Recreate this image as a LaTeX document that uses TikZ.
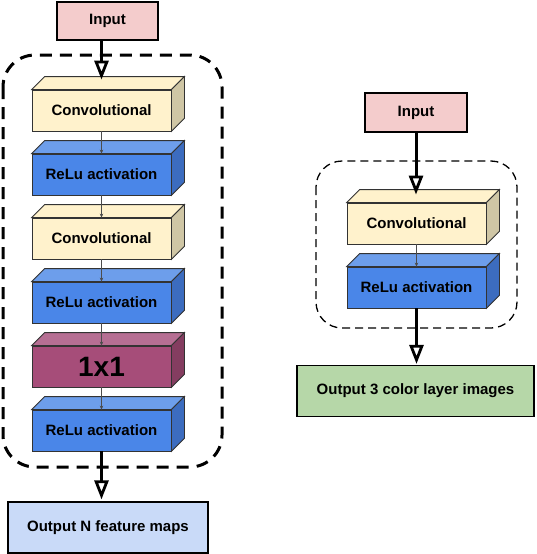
\documentclass[tikz,border=0pt]{standalone}
\usepackage{fontspec}
\setmainfont{Liberation Sans}
\usetikzlibrary{arrows.meta, positioning, calc}

\definecolor{inputpink}{HTML}{F4CCCC}
\definecolor{convfront}{HTML}{FFF2CC}
\definecolor{convside}{HTML}{CFC6A5}
\definecolor{relufront}{HTML}{4A86E8}
\definecolor{relutop}{HTML}{6D9EEB}
\definecolor{reluside}{HTML}{3C6CBF}
\definecolor{onefront}{HTML}{A64D79}
\definecolor{onetop}{HTML}{B66F93}
\definecolor{oneside}{HTML}{843D60}
\definecolor{outblue}{HTML}{C9DAF8}
\definecolor{outgreen}{HTML}{B6D7A8}

\begin{document}
\begin{tikzpicture}[x=1pt, y=-1pt, node distance=64pt,
            font={\fontsize{15pt}{18pt}\selectfont\bfseries},
            layer/.style={draw=black!80, line width=0.8pt, minimum width=139pt, minimum height=41pt, inner sep=0pt},
            conv/.style={layer, fill=convfront},
            relu/.style={layer, fill=relufront},
            onebyone/.style={layer, fill=onefront, font={\fontsize{28pt}{32pt}\selectfont\bfseries}},
            io/.style={draw=black, line width=1.2pt, inner sep=0pt},
            bigarrow/.style={line width=3pt, -{Triangle[open, length=19pt, width=14pt, line width=2.8pt 0]}},
            smallarrow/.style={draw=black!70, line width=0.7pt, -{Stealth[length=4pt, width=3.5pt]}},
            groupbox/.style={dashed, line cap=butt}]
            \useasboundingbox (0,0) rectangle (536,554);

            % left network
            \node[io, fill=inputpink, minimum width=101pt, minimum height=38pt] (in1) at (107.5,21) {Input};
            \node[conv] 	(c1) at (101.5,110.5)	{Convolutional};
            \node[relu] 	(r1)	[below of = c1]		{ReLu activation};
            \node[conv] 	(c2)	[below of = r1]		{Convolutional};
            \node[relu] 	(r2)	[below of = c2]		{ReLu activation};
            \node[onebyone] (x1)	[below of = r2]		{1x1};
            \node[relu] 	(r3)	[below of = x1]		{ReLu activation};
            \node[io, fill=outblue, minimum width=200pt, minimum height=51pt] (outn) at (108,527.5) {Output N feature maps};

            % right network
            \node[io, fill=inputpink, minimum width=102pt, minimum height=39pt] (in2) at (416,112.5) {Input};
            \node[conv] 	(c3) at (416.5,223.5)	{Convolutional};
            \node[relu] 	(r4)	[below of = c3]		{ReLu activation};
            \node[io, fill=outgreen, minimum width=237pt, minimum height=51pt] (out3) at (415.5,391) {Output 3 color layer images};

            % top and side faces
            \foreach \n/\topc/\sidec in {c1/convfront/convside, r1/relutop/reluside, c2/convfront/convside,
                    r2/relutop/reluside, x1/onetop/oneside, r3/relutop/reluside,
                    c3/convfront/convside, r4/relutop/reluside}{
                \draw[draw=black!80, line width=0.8pt, fill=\topc] (\n.north west) -- ++(13,-13)
                    -- ([shift={(13,-13)}]\n.north east) -- (\n.north east) -- cycle;
                \draw[draw=black!80, line width=0.8pt, fill=\sidec] (\n.north east) -- ++(13,-13)
                    -- ([shift={(13,-13)}]\n.south east) -- (\n.south east) -- cycle;
            }

            % groups
            \draw[groupbox, line width=3pt, dash pattern=on 12pt off 8pt, rounded corners=32pt] (3,55) rectangle (222,467);
            \draw[groupbox, line width=1.3pt, dash pattern=on 8pt off 5pt, rounded corners=26pt] (316,161) rectangle (517,328);

            % connections
            \draw[bigarrow, shorten >=10pt] (in1.south -| c1.north) -- (c1.north);
            \foreach \a/\b in {c1/r1, r1/c2, c2/r2, r2/x1, x1/r3, c3/r4}
                \draw[smallarrow] (\a) -- (\b.north);
            \draw[bigarrow, shorten >=2pt] (r3.south) -- (r3.south |- outn.north);
            \draw[bigarrow, shorten >=8pt] (in2.south) -- (in2.south |- c3.north);
            \draw[bigarrow, shorten >=1pt] (r4.south) -- (r4.south |- out3.north);
\end{tikzpicture}
\end{document}
